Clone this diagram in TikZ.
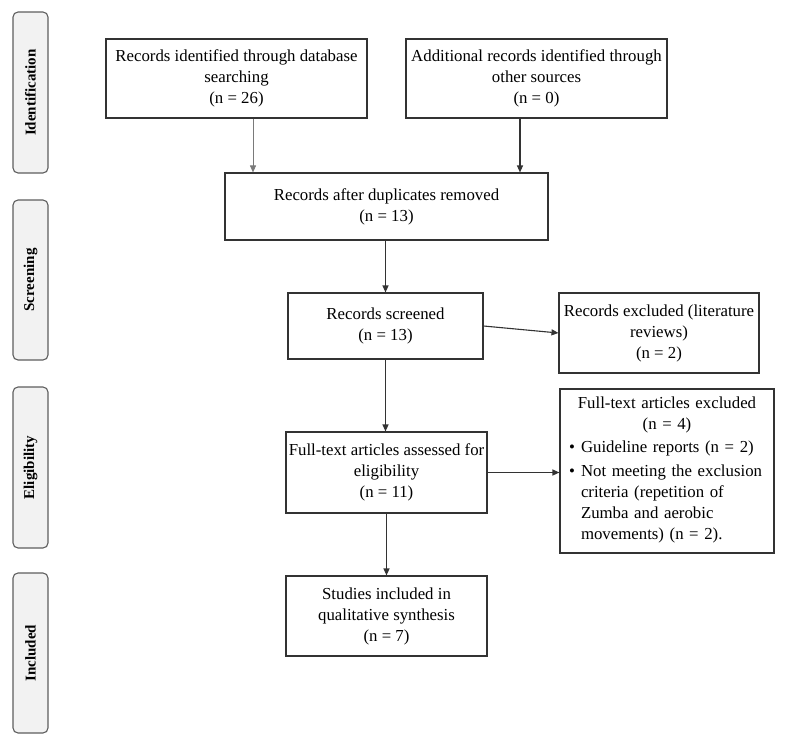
\documentclass[tikz,border=0pt]{standalone}
\usepackage{fontspec}
\setmainfont{Liberation Serif}
\usetikzlibrary{arrows.meta}
\definecolor{boxline}{HTML}{333333}
\definecolor{sidefill}{HTML}{F2F2F2}
\definecolor{sideline}{HTML}{5E5E5E}
\definecolor{lightarrow}{HTML}{7A7A7A}
\newcommand{\bulletitem}[1]{\noindent\makebox[12pt][l]{\textbullet}\begin{tabular}[t]{@{}l@{}}#1\end{tabular}\par}
\begin{document}
\begin{tikzpicture}[x=1pt,y=-1pt,
  flowbox/.style={draw=boxline, line width=1.1pt, align=center, inner sep=0pt,
    font=\fontsize{16.8}{21}\selectfont},
  sidebox/.style={draw=sideline, fill=sidefill, line width=1.1pt, rounded corners=5pt,
    rotate=90, minimum height=35pt, inner sep=0pt,
    font=\fontsize{15}{17}\selectfont\bfseries},
  flowarrow/.style={draw=boxline, line width=1.1pt, -{Triangle[length=7pt,width=6pt]}},
]
\useasboundingbox (0,0) rectangle (788,747);

% side phase labels
\node[sidebox, minimum width=161pt] (sid) at (30.5,92.5) {Identification};
\node[sidebox, minimum width=160pt] (ssc) at (30.5,280) {Screening};
\node[sidebox, minimum width=161pt] (sel) at (30.5,467.5) {Eligibility};
\node[sidebox, minimum width=160pt] (sin) at (30.5,653) {Included};

% boxes
\node[flowbox, minimum width=261pt, minimum height=79pt] (db) at (236.5,78.5)
  {Records identified through database\\searching\\(n = 26)};
\node[flowbox, minimum width=261pt, minimum height=79pt] (other) at (536.5,78.5)
  {Additional records identified through\\other sources\\(n = 0)};
\node[flowbox, minimum width=323pt, minimum height=67pt] (dup) at (386.5,206.5)
  {Records after duplicates removed\\(n = 13)};
\node[flowbox, minimum width=195pt, minimum height=66pt] (scr) at (385.5,326)
  {Records screened\\(n = 13)};
\node[flowbox, minimum width=200pt, minimum height=80pt] (ex1) at (659,333)
  {Records excluded (literature\\reviews)\\(n = 2)};
\node[flowbox, minimum width=201pt, minimum height=81pt] (ass) at (386.5,472.5)
  {Full-text articles assessed for\\eligibility\\(n = 11)};
\node[flowbox, minimum width=214pt, minimum height=164pt, text width=196pt, align=left] (ex2) at (667,471)
  {\centering Full-text articles excluded\\(n = 4)\par
   \vspace{2pt}\raggedright
   \bulletitem{Guideline reports (n = 2)}
   \vspace{3pt}
   \bulletitem{Not meeting the exclusion\\criteria (repetition of\\Zumba and aerobic\\movements) (n = 2).}};
\node[flowbox, minimum width=201pt, minimum height=80pt] (inc) at (386.5,616)
  {Studies included in\\qualitative synthesis\\(n = 7)};
\coordinate (a1) at (253,0);
\coordinate (a2) at (520,0);

% connectors
\draw[flowarrow, draw=lightarrow, line width=0.8pt] (db.south -| a1) -- (dup.north -| a1);
\draw[flowarrow] (other.south -| a2) -- (dup.north -| a2);
\draw[flowarrow] (dup.south -| scr.north) -- (scr.north);
\draw[flowarrow] (scr.east) -- (ex1.west);
\draw[flowarrow] (scr.south) -- (scr.south |- ass.north);
\draw[flowarrow] (ass.east) -- (ass.east -| ex2.west);
\draw[flowarrow] (ass.south) -- (inc.north);
\end{tikzpicture}
\end{document}
